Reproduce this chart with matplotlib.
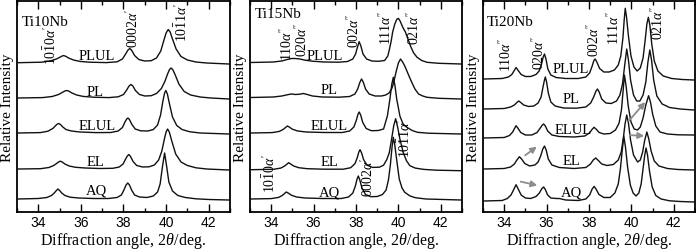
import matplotlib
matplotlib.use("Agg")
import matplotlib.pyplot as plt
from matplotlib.ticker import MultipleLocator

# ---------------- data: (2theta [deg], relative intensity [a.u.]) ----------------
samples = ["AQ", "EL", "ELUL", "PL", "PLUL"]

ti10nb_aq = [(33.05,1),(34.0,1.5),(34.4,2.5),(34.62,4.5),(34.75,7),(34.85,9.5),(34.92,11),(35.0,9.5),(35.1,7),(35.25,4.5),
             (35.5,2.8),(35.9,2),(36.6,1.5),(37.3,1.5),(37.7,2.5),(37.9,5),(38.02,10),(38.12,15),(38.2,17),(38.28,15),
             (38.38,10),(38.52,5),(38.75,3),(39.1,2.5),(39.4,4),(39.6,8),(39.72,16),(39.82,32),(39.93,47),(40.03,33),
             (40.13,18),(40.3,9),(40.55,4.5),(40.9,2.5),(41.4,1.2),(42.0,0.5),(42.95,0)]
ti10nb_el = [(33.05,1),(34.1,1.3),(34.5,2.5),(34.72,4.5),(34.86,6.5),(34.95,8),(35.03,8.8),(35.12,8),(35.25,6),(35.45,4),
             (35.75,2.7),(36.2,2),(36.9,1.5),(37.5,1.7),(37.8,3),(37.98,6),(38.1,11),(38.18,14),(38.25,15.5),(38.33,13.5),
             (38.45,8.5),(38.62,4.5),(38.9,3),(39.2,3.2),(39.45,5),(39.65,10),(39.8,19),(39.92,31),(40.0,38),(40.07,41),
             (40.15,38),(40.28,28),(40.45,16),(40.7,8),(41.0,4.5),(41.4,2.2),(41.9,1),(42.95,0)]
ti10nb_elul = [(33.05,1),(34.1,1.4),(34.45,2.8),(34.68,5.5),(34.82,8.5),(34.9,10),(34.96,10.5),(35.04,9.5),(35.15,7),(35.3,4.5),
               (35.55,3),(35.95,2),(36.7,1.4),(37.4,1.5),(37.75,3),(37.95,6.5),(38.07,12),(38.15,15),(38.21,16),(38.28,14.5),
               (38.38,10),(38.55,5),(38.8,3.2),(39.15,3),(39.4,4.5),(39.6,9),(39.74,19),(39.85,33),(39.93,41),(39.99,43.5),
               (40.06,40),(40.16,30),(40.3,17),(40.5,8.5),(40.75,4.5),(41.1,2.3),(41.6,1),(42.95,0)]
ti10nb_pl = [(33.05,1),(34.2,1.4),(34.65,2.5),(34.95,4.5),(35.12,6.5),(35.25,8),(35.33,8.5),(35.42,8),(35.58,6),(35.8,4),
             (36.1,2.6),(36.6,1.8),(37.3,1.4),(37.75,2.2),(38.0,4.5),(38.15,9),(38.26,13),(38.35,14.5),(38.44,13),(38.56,8.5),
             (38.75,4.5),(39.0,3),(39.3,3.3),(39.55,5.5),(39.78,10.5),(39.95,18),(40.07,25),(40.16,29.5),(40.23,31),(40.31,29.5),
             (40.43,24),(40.6,15),(40.85,7.5),(41.15,4),(41.6,2),(42.1,1),(42.95,0)]
ti10nb_plul = [(33.05,1.3),(34.15,1.8),(34.55,3),(34.85,5),(35.02,6.8),(35.12,8),(35.19,8.4),(35.28,7.8),(35.42,6),(35.65,4),
               (35.95,2.6),(36.4,1.8),(37.2,1.4),(37.7,2.2),(37.95,5),(38.1,10),(38.21,14),(38.3,15.5),(38.39,13.5),(38.52,8.5),
               (38.72,4.5),(39.0,3),(39.3,3.3),(39.55,6),(39.75,13),(39.9,24),(40.0,31),(40.1,34.5),(40.19,32),(40.3,25),
               (40.47,15),(40.7,7.5),(41.0,4),(41.4,2),(41.9,1),(42.95,0)]

ti15nb_aq = [(33.05,1),(34.0,1.4),(34.35,2.6),(34.52,4.5),(34.63,6.5),(34.71,8),(34.8,7),(34.95,4.8),(35.2,3),(35.6,2),
             (36.4,1.5),(37.3,1.5),(37.65,3),(37.85,7),(37.97,14),(38.05,21),(38.11,24),(38.18,20),(38.28,12),(38.45,5.5),
             (38.7,3.3),(39.0,3.5),(39.25,5.5),(39.42,10),(39.53,20),(39.62,35),(39.7,53),(39.76,62.7),(39.83,55),(39.92,40),
             (40.04,21),(40.17,12),(40.3,7.7),(40.55,4),(40.8,2.3),(41.3,1),(42.95,0)]
ti15nb_el = [(33.05,1),(34.1,1.4),(34.45,2.6),(34.62,4.5),(34.74,6.5),(34.82,8),(34.9,7),(35.05,4.8),(35.3,3),(35.7,2),
             (36.5,1.5),(37.4,1.5),(37.75,3),(37.95,7),(38.06,13),(38.13,18.5),(38.19,21),(38.26,18),(38.36,11),(38.52,5.5),
             (38.78,3.3),(39.1,3.5),(39.3,5.5),(39.45,11),(39.57,18),(39.68,31.7),(39.78,45),(39.87,52),(39.96,44),(40.07,31.7),
             (40.23,18),(40.38,10),(40.54,5),(40.8,2.6),(41.2,1.3),(41.8,0.5),(42.95,0)]
ti15nb_elul = [(33.05,1),(34.05,1.4),(34.38,2.6),(34.56,4.5),(34.68,6.5),(34.76,8),(34.85,7),(35.0,4.8),(35.25,3),(35.65,2),
               (36.5,1.5),(37.35,1.5),(37.7,3),(37.9,7),(38.02,14),(38.09,19.5),(38.15,22),(38.22,19),(38.32,11.5),(38.48,5.5),
               (38.72,3.3),(39.05,3.5),(39.3,5),(39.48,18),(39.6,35),(39.69,50),(39.76,56.7),(39.84,48),(39.92,35),(40.07,18),
               (40.22,10),(40.4,6.7),(40.65,3.5),(40.9,1.7),(41.4,0.8),(42.95,0)]
ti15nb_pl = [(33.05,1.5),(34.1,2),(34.5,3),(34.75,4.2),(34.95,5),(35.15,4.5),(35.35,4.8),(35.52,5.5),(35.7,4.5),(35.95,3),
             (36.4,2),(37.2,1.8),(37.7,2.5),(37.95,5),(38.08,10),(38.18,16.5),(38.26,20),(38.34,17),(38.45,10),(38.62,5),
             (38.9,3),(39.2,3),(39.4,4),(39.56,6),(39.7,11),(39.78,16.7),(39.9,28),(40.0,36),(40.1,40),(40.2,37),
             (40.3,33),(40.4,28),(40.52,22),(40.63,16.7),(40.78,10),(40.95,5),(41.15,3),(41.35,1.7),(41.9,0.7),(42.95,0)]
ti15nb_plul = [(33.05,1.5),(34.1,2),(34.5,3),(34.75,4.5),(34.95,5.5),(35.15,5.5),(35.35,5),(35.6,3.8),(35.95,2.8),(36.5,2),
               (37.2,1.8),(37.6,2.5),(37.85,5),(37.98,10),(38.07,17),(38.15,22.3),(38.23,18),(38.33,10),(38.5,5),(38.75,3),
               (39.05,2.7),(39.35,3.5),(39.5,8),(39.58,15),(39.66,23),(39.73,32),(39.83,40),(39.92,44.5),(40.0,45.7),(40.08,43),
               (40.2,37),(40.33,32),(40.45,25),(40.57,18),(40.72,11),(40.88,6.7),(41.1,3.5),(41.35,1.7),(41.9,0.7),(42.95,0)]

ti20nb_aq = [(33.05,1),(33.9,1.5),(34.15,3.5),(34.32,7),(34.44,12),(34.56,17.3),(34.66,13),(34.8,7),(35.0,4),(35.25,3.5),
             (35.5,5.5),(35.66,9),(35.78,13.5),(35.86,15),(35.94,12.5),(36.05,7),(36.2,4),(36.45,3.5),(36.6,3.5),(36.9,2),
             (37.5,1.5),(37.85,3),(38.03,7),(38.15,13),(38.24,15.6),(38.33,13),(38.47,7.5),(38.7,4.5),(39.0,4.5),(39.22,9),
             (39.38,18),(39.48,33),(39.56,50),(39.64,66),(39.72,55),(39.82,35),(39.95,17),(40.08,9),(40.22,6),(40.35,9),
             (40.46,18),(40.56,35),(40.63,47),(40.69,54),(40.76,47),(40.86,30),(40.98,15),(41.15,6.5),(41.4,3),(41.8,1.2),
             (42.3,0.5),(42.95,0)]
ti20nb_el = [(33.05,1),(34.0,1.5),(34.3,3),(34.48,6),(34.6,10),(34.72,13.3),(34.82,11),(34.97,6.5),(35.2,4),(35.45,5),
             (35.6,8),(35.72,14),(35.82,21),(35.9,24),(35.98,20),(36.08,11),(36.25,5),(36.6,2.5),(37.3,1.5),(37.85,2.5),
             (38.07,6),(38.2,10),(38.32,12),(38.44,9.5),(38.6,6),(38.85,4.5),(39.15,5.5),(39.38,10),(39.52,18),(39.62,32),
             (39.7,46),(39.78,55),(39.86,47),(39.96,30),(40.1,15),(40.29,8),(40.42,10),(40.53,18),(40.63,30),(40.73,38),
             (40.82,31),(40.93,19),(41.08,9),(41.3,4),(41.7,1.5),(42.2,0.5),(42.95,0)]
ti20nb_elul = [(33.05,0),(34.0,0.5),(34.25,2.5),(34.4,6),(34.5,10),(34.56,12.3),(34.64,10),(34.78,5.5),(35.0,3),(35.3,3),
               (35.55,5.5),(35.7,10),(35.8,13),(35.86,14),(35.94,12),(36.05,7),(36.25,3),(36.6,1.5),(37.3,1),(37.8,2),
               (38.02,5),(38.16,9),(38.24,10.7),(38.33,9),(38.48,5.5),(38.7,4),(39.0,4.5),(39.25,8),(39.42,15),(39.53,28),
               (39.6,45),(39.67,63),(39.75,52),(39.85,32),(39.98,16),(40.13,9),(40.29,8),(40.42,11),(40.55,20),(40.68,33),
               (40.81,42.3),(40.9,36),(41.0,24),(41.15,12),(41.35,6),(41.7,4),(42.2,3.2),(42.95,3)]
ti20nb_pl = [(33.05,1),(34.0,1.5),(34.3,3),(34.48,5),(34.6,7.5),(34.69,9),(34.78,7.5),(34.92,5),(35.15,3.5),(35.4,4),
             (35.6,7),(35.74,13),(35.84,24),(35.9,30),(35.94,33),(36.0,28),(36.08,17),(36.2,8),(36.4,4),(36.8,2),
             (37.4,1.8),(37.85,3),(38.08,7),(38.22,13),(38.33,19),(38.4,21),(38.48,18),(38.6,11),(38.8,7),(39.05,6.5),
             (39.3,9),(39.46,15),(39.58,26),(39.68,44),(39.78,61),(39.86,50),(39.96,30),(40.1,15),(40.25,9),(40.4,9),
             (40.55,15),(40.68,28),(40.78,48),(40.87,60),(40.95,50),(41.05,30),(41.2,14),(41.45,6),(41.8,2.5),(42.3,1),
             (42.95,0)]
ti20nb_plul = [(33.05,1),(33.9,1.5),(34.2,3),(34.36,5.5),(34.46,9),(34.56,12.5),(34.66,9.5),(34.8,5.5),(35.0,3.5),(35.25,3.5),
               (35.5,5.5),(35.65,9),(35.76,16),(35.84,23),(35.9,26),(35.97,21),(36.06,11),(36.2,5),(36.45,2.5),(36.9,1.5),
               (37.5,1.5),(37.85,3),(38.03,7),(38.15,14),(38.23,19.5),(38.29,21),(38.37,18),(38.5,11.5),(38.7,8),(38.95,8),
               (39.2,10),(39.38,15),(39.5,24),(39.6,42),(39.66,60),(39.71,71.7),(39.77,63),(39.86,44),(39.98,24),(40.12,13),
               (40.27,9),(40.42,12),(40.55,22),(40.65,40),(40.73,56),(40.8,62.7),(40.87,55),(40.96,36),(41.08,19),(41.25,9),
               (41.5,4),(41.9,1.5),(42.4,0.5),(42.95,0)]

panel_names = ["Ti10Nb", "Ti15Nb", "Ti20Nb"]
panel_curves = [
    [ti10nb_aq, ti10nb_el, ti10nb_elul, ti10nb_pl, ti10nb_plul],
    [ti15nb_aq, ti15nb_el, ti15nb_elul, ti15nb_pl, ti15nb_plul],
    [ti20nb_aq, ti20nb_el, ti20nb_elul, ti20nb_pl, ti20nb_plul],
]
x_ticks = [34, 36, 38, 40, 42]

# ---------------- layout / style ----------------
W, H = 696, 251
plt.rcParams["mathtext.fontset"] = "custom"
plt.rcParams["mathtext.rm"] = "Liberation Serif"
plt.rcParams["mathtext.it"] = "Liberation Serif:italic"
plt.rcParams["mathtext.bf"] = "Liberation Serif:bold"
SERIF = ["Liberation Serif", "DejaVu Serif"]
SANS = ["Liberation Sans", "DejaVu Sans"]

fig = plt.figure(figsize=(W / 100, H / 100), dpi=100)
fig.patch.set_facecolor("white")

ax_px = [(17, 213), (250, 212), (483, 212)]   # left, width in pixels
ax_top, ax_bot = 2, 213
offsets = [
    [12, 42, 78, 113, 148],
    [12, 41.3, 78, 113, 148],
    [10, 42, 74, 102, 132],
]


def P(x, y):
    return x / W, 1 - y / H


axes = []
for i, (l, w) in enumerate(ax_px):
    ax = fig.add_axes([l / W, (H - ax_bot) / H, w / W, (ax_bot - ax_top) / H])
    for j, curve in enumerate(panel_curves[i]):
        xs = [p[0] for p in curve]
        ys = [p[1] + offsets[i][j] for p in curve]
        ax.plot(xs, ys, color="#111111", lw=1.0)
    ax.set_xlim(33, 43)
    ax.set_ylim(0, ax_bot - ax_top)
    ax.set_yticks([])
    ax.set_xticks(x_ticks)
    ax.set_xticklabels([str(t) for t in x_ticks], family=SANS, fontsize=10)
    ax.xaxis.set_minor_locator(MultipleLocator(1))
    ax.tick_params(axis="x", which="both", direction="in", top=True, width=1.0, pad=2.5)
    ax.tick_params(axis="x", which="major", length=6)
    ax.tick_params(axis="x", which="minor", length=3)
    for s in ax.spines.values():
        s.set_linewidth(1.3)
    ax.set_xlabel(r"Diffraction angle, $\mathit{2\theta}$/deg.", family=SERIF, fontsize=11.5, labelpad=0.5)
    ax.set_ylabel("Relative Intensity", family=SERIF, fontsize=11, labelpad=2)
    axes.append(ax)

# panel titles
for (x, y), name in zip([(22, 26), (255, 18), (487, 26)], panel_names):
    fig.text(*P(x, y), name, family=SERIF, fontsize=11, ha="left", va="baseline")

# sample labels
label_pos = [
    [(96, 191), (95, 163), (97, 127), (95, 92), (97, 56)],
    [(329, 193), (329, 163), (329, 127), (329, 91), (325, 56)],
    [(571, 193), (571, 162), (573, 131), (571, 100), (571, 70)],
]
for i in range(3):
    for j, s in enumerate(samples):
        fig.text(*P(*label_pos[i][j]), s, family=SERIF, fontsize=10.5, ha="center", va="center")

# peak index labels (rotated)
peak_labels = [
    (51, 65, r"$\mathrm{10\bar{1}0}\alpha'$"),
    (133, 48, r"$\mathrm{0002}\alpha'$"),
    (182, 42, r"$\mathrm{10\bar{1}1}\alpha'$"),
    (287, 61, r"$\mathrm{110}\alpha''$"),
    (302, 57, r"$\mathrm{020}\alpha''$"),
    (354, 48, r"$\mathrm{002}\alpha''$"),
    (386, 45, r"$\mathrm{111}\alpha''$"),
    (414, 45, r"$\mathrm{021}\alpha''$"),
    (270, 193, r"$\mathrm{10\bar{1}0}\alpha'$"),
    (368, 197, r"$\mathrm{0002}\alpha'$"),
    (405, 158, r"$\mathrm{10\bar{1}1}\alpha'$"),
    (506, 72, r"$\mathrm{110}\alpha''$"),
    (539, 70, r"$\mathrm{020}\alpha''$"),
    (594, 57, r"$\mathrm{002}\alpha''$"),
    (614, 45, r"$\mathrm{111}\alpha''$"),
    (658, 40, r"$\mathrm{021}\alpha''$"),
]
for x, y, t in peak_labels:
    fig.text(*P(x, y), t, fontsize=10, rotation=90, ha="center", va="bottom")

# grey arrows (pixel coords, top-left origin)
arrows = [((518, 182), (540, 187)), ((523, 158), (539, 146)),
          ((627, 124), (647, 101)), ((627, 136), (647, 137))]
for (x0, y0), (x1, y1) in arrows:
    fig.add_artist(matplotlib.patches.FancyArrowPatch(
        (x0, H - y0), (x1, H - y1), transform=None,
        arrowstyle="-|>", mutation_scale=9, color="#8c8c8c", lw=1.3))

fig.savefig("out.png", dpi=100, facecolor="white")
